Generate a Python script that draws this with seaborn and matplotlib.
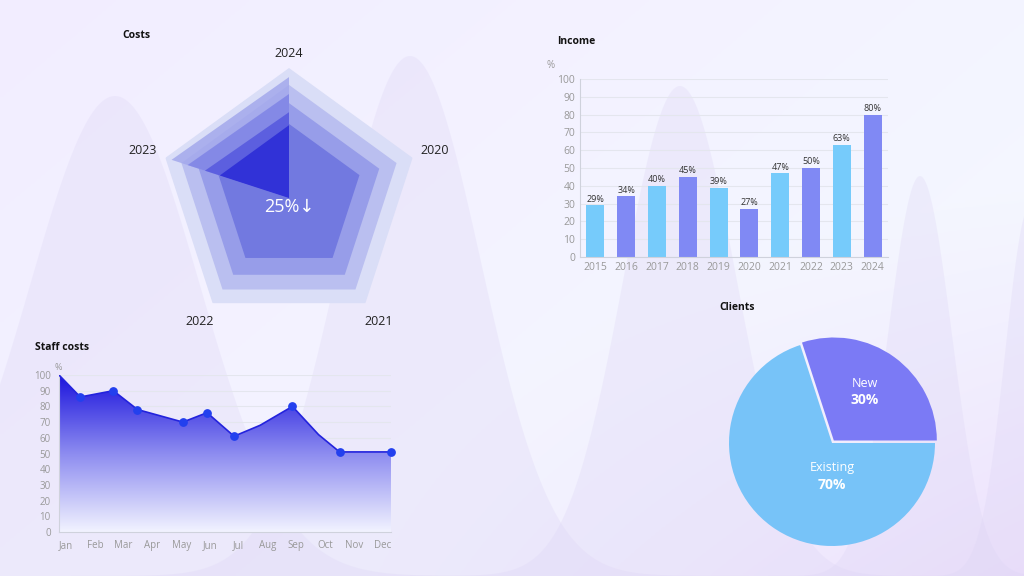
import numpy as np
import pandas as pd
import matplotlib
matplotlib.use("Agg")
import matplotlib.pyplot as plt
from matplotlib.colors import LinearSegmentedColormap
import seaborn as sns

plt.rcParams["font.family"] = ["Open Sans", "DejaVu Sans"]

# ---- data ----
radar_labels = ["2024", "2020", "2021", "2022", "2023"]
radar_rings = [100, 87, 73, 57]
radar_tri_2024 = [93, 80, 66, 56]
radar_tri_2023 = [95, 82, 68, 56]
radar_center_text = "25%↓"

income_years = ["2015", "2016", "2017", "2018", "2019", "2020", "2021", "2022", "2023", "2024"]
income_values = [29, 34, 40, 45, 39, 27, 47, 50, 63, 80]

staff_months = ["Jan", "Feb", "Mar", "Apr", "May", "Jun", "Jul", "Aug", "Sep", "Oct", "Nov", "Dec"]
staff_x = [-0.25, 0.49, 1.64, 2.48, 4.06, 4.9, 5.84, 6.75, 7.87, 8.78, 9.51, 11.3]
staff_y = [100, 86, 90, 78, 70, 76, 61, 68, 80, 62, 51, 51]
staff_marker = [False, True, True, True, True, True, True, False, True, False, True, True]

client_labels = ["New", "Existing"]
client_values = [30, 70]

W, H = 1024, 576
fig = plt.figure(figsize=(W / 100, H / 100), dpi=100)

# background
bg = fig.add_axes([0, 0, 1, 1])
bg.set_xlim(0, W); bg.set_ylim(H, 0); bg.axis("off")
yy, xx = np.mgrid[0:1:200j, 0:1:200j]
c1 = np.array([0.95, 0.93, 1.0]); c2 = np.array([0.96, 0.98, 1.0]); c3 = np.array([0.93, 0.88, 0.99])
t = np.clip(xx * 0.6 + yy * 0.4, 0, 1)[..., None]
grad = c1 * (1 - t) + c2 * t
k = np.clip((xx * yy) * 1.5 - 0.5, 0, 1)[..., None]
grad = grad * (1 - k) + c3 * k
bg.imshow(grad, extent=[0, W, H, 0], aspect="auto", zorder=0)
mx = np.linspace(0, W, 800)
m1 = 576 - (480 * np.exp(-((mx - 115) / 120) ** 2))
m2 = 576 - (520 * np.exp(-((mx - 410) / 100) ** 2))
m3 = 576 - (490 * np.exp(-((mx - 680) / 80) ** 2))
m4 = 576 - (400 * np.exp(-((mx - 920) / 45) ** 2))
m5 = 576 - (370 * np.exp(-((mx - 1030) / 35) ** 2))
for m in [m1, m2, m3, m4, m5]:
    bg.fill_between(mx, m, 576, color="#ddd5f5", alpha=0.3, lw=0)

def title(x, y, s):
    fig.text(x / W, 1 - y / H, s, fontsize=7.5, fontweight="bold", color="#111", va="center")

title(122, 36, "Costs"); title(557, 41, "Income"); title(35, 348, "Staff costs"); title(719, 307, "Clients")

# ---- radar ----
ax = fig.add_axes([159 / W, 1 - 328 / H, 260 / W, 260 / H], projection="polar")
ax.set_theta_zero_location("N"); ax.set_theta_direction(-1)
ang = np.linspace(0, 2 * np.pi, 5, endpoint=False)
angc = np.append(ang, ang[0])
ring_cols = ["#dadef7", "#babff0", "#979de9", "#7279e0"]
for r, c in zip(radar_rings, ring_cols):
    ax.fill(angc, [r] * 6, color=c, lw=0)
tri_cols = ["#a3a8ec", "#7f84e6", "#5558de", "#2a2ad6"]
for a, b, c in zip(radar_tri_2024, radar_tri_2023, tri_cols):
    ax.fill([0, ang[0], ang[4], 0], [0, a, b, 0], color=c, lw=0, alpha=0.85)
ax.set_ylim(0, 100)
ax.set_xticks([])
label_r = [111, 118, 117, 117, 118]
for a, lab, rr in zip(ang, radar_labels, label_r):
    ax.text(a, rr, lab, ha="center", va="center", fontsize=9, color="#222", clip_on=False)
ax.set_yticks([]); ax.grid(False); ax.spines["polar"].set_visible(False)
ax.set_facecolor("none")
ax.text(0, 0, radar_center_text, transform=ax.transData, ha="center", va="top", fontsize=13, color="white")

# ---- income ----
ax2 = fig.add_axes([580 / W, 1 - 257 / H, 308 / W, 178 / H])
df = pd.DataFrame({"year": income_years, "value": income_values})
pal = ["#76cbfb" if i % 2 == 0 else "#8089f4" for i in range(len(income_years))]
sns.barplot(data=df, x="year", y="value", hue="year", palette=pal, legend=False, width=0.58, ax=ax2, saturation=1)
for i, v in enumerate(income_values):
    ax2.text(i, v + 1, f"{v}%", ha="center", va="bottom", fontsize=6.5, color="#333")
ax2.set_ylim(0, 100); ax2.set_xlim(-0.5, 9.5)
ax2.set_yticks(range(0, 101, 10))
ax2.set_xlabel(""); ax2.set_ylabel("")
ax2.set_facecolor("none")
ax2.grid(axis="y", color="#e4e6ee", lw=0.8); ax2.set_axisbelow(True)
for s in ["top", "right"]: ax2.spines[s].set_visible(False)
ax2.spines["left"].set_color("#cfd2dc"); ax2.spines["bottom"].set_color("#cfd2dc")
ax2.tick_params(length=0, labelsize=7.5, colors="#999")
ax2.text(-0.11, 1.06, "%", transform=ax2.transAxes, fontsize=7, color="#999")

# ---- staff costs ----
ax3 = fig.add_axes([59 / W, 1 - 532 / H, 332 / W, 157 / H])
xlo, xhi = -0.25, 11.3
ax3.set_xlim(xlo, xhi); ax3.set_ylim(0, 100)
cmap = LinearSegmentedColormap.from_list("g", ["#f2f3ff", "#8d8cf0", "#1c14dd"])
gimg = np.linspace(0, 1, 256)[:, None]
im = ax3.imshow(gimg, extent=[xlo, xhi, 0, 100], origin="lower", aspect="auto", cmap=cmap, zorder=1)
poly = ax3.fill_between(staff_x, staff_y, 0, color="none", lw=0)
im.set_clip_path(poly.get_paths()[0], transform=ax3.transData)
sdf = pd.DataFrame({"x": staff_x, "y": staff_y})
sns.lineplot(data=sdf, x="x", y="y", color="#2323dd", lw=1.2, ax=ax3, zorder=3)
mx_ = [x for x, m in zip(staff_x, staff_marker) if m]
my_ = [y for y, m in zip(staff_y, staff_marker) if m]
ax3.scatter(mx_, my_, s=28, color="#2340ee", zorder=4, clip_on=False)
ax3.set_xticks(range(12)); ax3.set_xticklabels(staff_months)
ax3.set_yticks(range(0, 101, 10))
ax3.set_xlabel(""); ax3.set_ylabel("")
ax3.set_facecolor("none")
ax3.grid(axis="y", color="#e4e6ee", lw=0.8); ax3.set_axisbelow(True)
for s in ["top", "right"]: ax3.spines[s].set_visible(False)
ax3.spines["left"].set_color("#cfd2dc"); ax3.spines["bottom"].set_color("#cfd2dc")
ax3.tick_params(length=0, labelsize=7, colors="#999", pad=6)
ax3.text(-0.013, 1.03, "%", transform=ax3.transAxes, fontsize=6.5, color="#999")

# ---- pie ----
ax4 = fig.add_axes([729 / W, 1 - 546 / H, 206 / W, 206 / H])
wedges, _ = ax4.pie(client_values, colors=["#7b7af5", "#77c3f8"], startangle=0, counterclock=True,
                    explode=[0.03, 0], radius=1.0, wedgeprops=dict(lw=0))
ax4.set_xlim(-1, 1); ax4.set_ylim(-1, 1)
ax4.set_aspect("equal")
ax4.text(0.32, 0.58, client_labels[0], ha="center", va="center", fontsize=9, color="white")
ax4.text(0.32, 0.42, f"{client_values[0]}%", ha="center", va="center", fontsize=10, color="white", fontweight="bold")
ax4.text(0.0, -0.24, client_labels[1], ha="center", va="center", fontsize=9, color="white")
ax4.text(0.0, -0.41, f"{client_values[1]}%", ha="center", va="center", fontsize=10, color="white", fontweight="bold")

fig.savefig("out.png", dpi=100)
